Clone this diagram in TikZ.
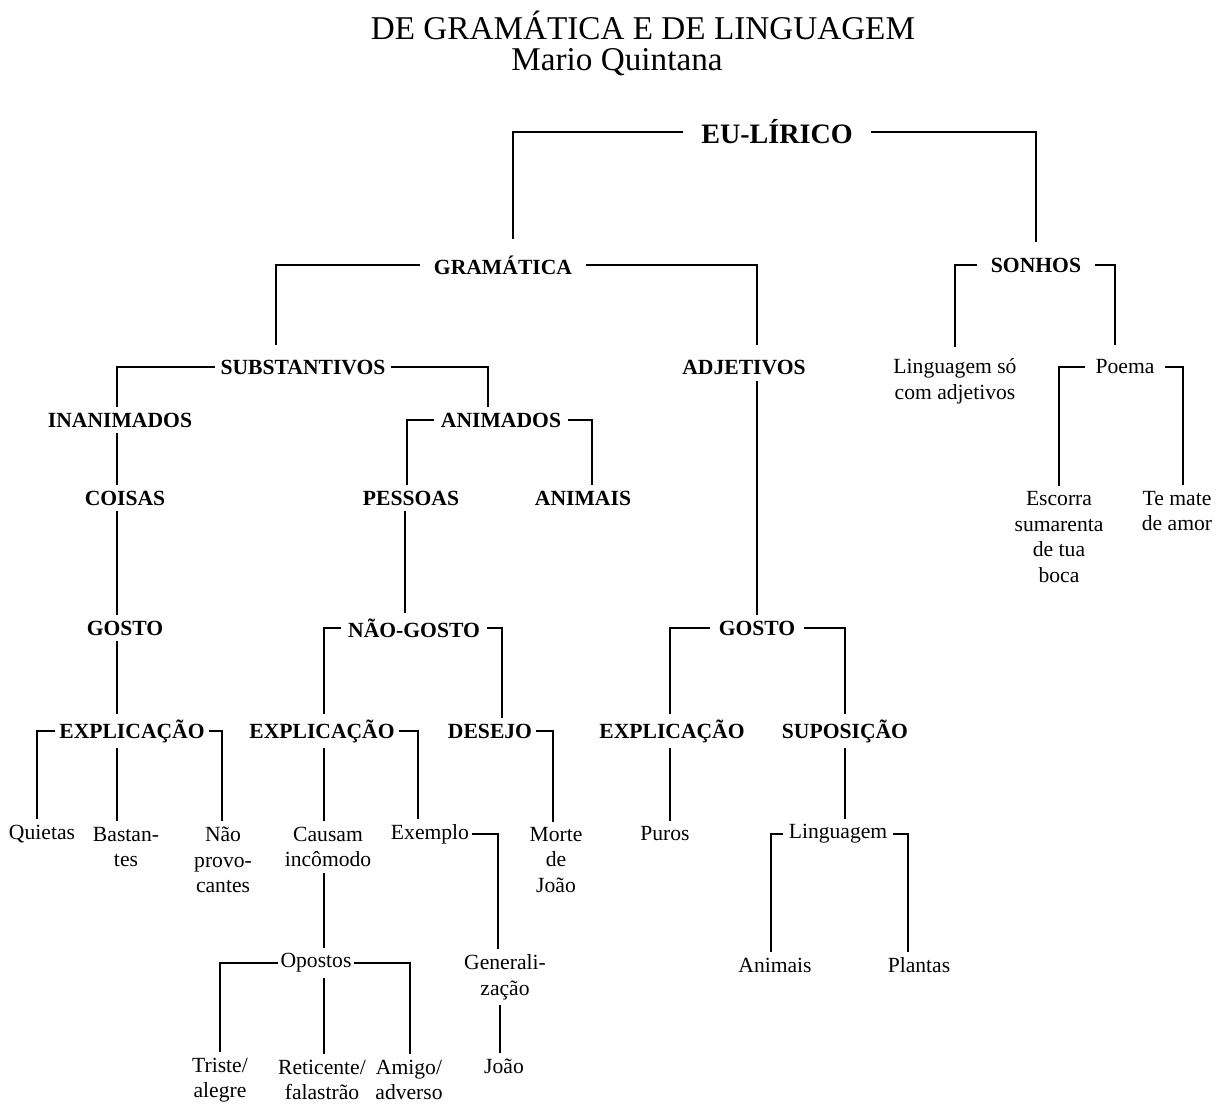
\documentclass[tikz,border=0pt]{standalone}
\usepackage{fontspec}
\setmainfont{Liberation Serif}
\usetikzlibrary{calc}

\tikzset{
	lbl/.style={font=\fontsize{12.3}{14.6}\selectfont, inner xsep=1.5pt, inner ysep=3pt, align=center},
	bold/.style={font=\fontsize{12.3}{14.6}\selectfont\bfseries, inner xsep=2pt, inner ysep=3pt, align=center},
	wire/.style={line width=1.1pt},
}

\begin{document}
\begin{tikzpicture}[x=0.02cm,y=-0.02cm]
		\useasboundingbox (0,0) rectangle (1222,1103);
		\node[font=\fontsize{18.9}{22}\selectfont] (title) at (643,25) {DE GRAMÁTICA E DE LINGUAGEM};
		\node[font=\fontsize{18.9}{22}\selectfont] (autor) at (617,62) {Mario Quintana};

		\node[bold, font=\fontsize{16}{19}\selectfont\bfseries, inner xsep=10pt] (eu) at (777,132) {EU-LÍRICO};
		\node[bold, inner xsep=8pt, inner ysep=9pt] (gram) at (503,265) {GRAMÁTICA};
		\node[bold, inner xsep=8pt, inner ysep=9pt] (sonhos) at (1036,265) {SONHOS};
		\node[bold, inner xsep=3pt, inner ysep=8pt] (subst) at (303,367) {SUBSTANTIVOS};
		\node[bold, inner ysep=8pt] (adj) at (744,367) {ADJETIVOS};
		\node[lbl, inner ysep=6pt] (lingso) at (955,381) {Linguagem só\\com adjetivos};
		\node[lbl, inner xsep=6pt, inner ysep=8pt] (poema) at (1125,367) {Poema};
		\node[bold] (inan) at (120,420) {INANIMADOS};
		\node[bold, inner xsep=4pt] (anim) at (501,420) {ANIMADOS};
		\node[bold] (coisas) at (125,498) {COISAS};
		\node[bold] (pess) at (411,498) {PESSOAS};
		\node[bold] (animais) at (583,498) {ANIMAIS};
		\node[lbl] (escorra) at (1059,537) {Escorra\\sumarenta\\de tua\\boca};
		\node[lbl] (temate) at (1177,511) {Te mate\\de amor};
		\node[bold] (gostoA) at (125,628) {GOSTO};
		\node[bold, inner xsep=4pt] (naogosto) at (414,628) {NÃO-GOSTO};
		\node[bold, inner xsep=5pt] (gostoB) at (757,628) {GOSTO};
		\node[bold] (explA) at (132,731) {EXPLICAÇÃO};
		\node[bold] (explB) at (322,731) {EXPLICAÇÃO};
		\node[bold] (desejo) at (490,731) {DESEJO};
		\node[bold] (explC) at (672,731) {EXPLICAÇÃO};
		\node[bold] (supos) at (845,731) {SUPOSIÇÃO};
		\node[lbl] (quietas) at (42,834) {Quietas};
		\node[lbl] (bastan) at (126,847) {Bastan-\\tes};
		\node[lbl] (naoprov) at (223,860) {Não\\provo-\\cantes};
		\node[lbl] (causam) at (328,847) {Causam\\incômodo};
		\node[lbl] (exemplo) at (430,834) {Exemplo};
		\node[lbl] (morte) at (556,860) {Morte\\de\\João};
		\node[lbl] (puros) at (665,834) {Puros};
		\node[lbl, inner xsep=3pt] (ling) at (838,834) {Linguagem};
		\node[lbl] (opostos) at (316,963) {Opostos};
		\node[lbl] (general) at (505,977) {Generali-\\zação};
		\node[lbl] (animaisB) at (775,965) {Animais};
		\node[lbl] (plantas) at (919,965) {Plantas};
		\node[lbl] (triste) at (220,1080) {Triste/\\alegre};
		\node[lbl] (retic) at (322,1080) {Reticente/\\falastrão};
		\node[lbl] (amigo) at (409,1080) {Amigo/\\adverso};
		\node[lbl] (joao) at (504,1066) {João};

		\draw[wire] (eu.west) -| ($(gram.north)+(10,0)$);
		\draw[wire] (eu.east) -| (sonhos.north);
		\draw[wire] (gram.west) -| ($(subst.north)+(-27,0)$);
		\draw[wire] (gram.east) -| ($(adj.north)+(13,0)$);
		\draw[wire] ($(adj.south -| gostoB.north)+(0,-8)$) -- (gostoB.north);
		\draw[wire] (sonhos.west) -| (lingso.north);
		\draw[wire] (sonhos.east) -| ($(poema.north)+(-10,0)$);
		\draw[wire] (poema.west) -| (escorra.north);
		\draw[wire] (poema.east) -| ($(temate.north)+(6,0)$);
		\draw[wire] (subst.west) -| ($(inan.north)+(-3,0)$);
		\draw[wire] (subst.east) -| ($(anim.north)+(-13,0)$);
		\draw[wire] ($(inan.south)+(-3,0)$) -- ($(coisas.north)+(-8,0)$);
		\draw[wire] ($(coisas.south)+(-8,0)$) -- ($(gostoA.north)+(-8,0)$);
		\draw[wire] ($(gostoA.south)+(-8,0)$) -- ($(explA.north)+(-15,0)$);
		\draw[wire] (anim.west) -| ($(pess.north)+(-4,0)$);
		\draw[wire] (anim.east) -| ($(animais.north)+(9,0)$);
		\draw[wire] ($(pess.south)+(-6,0)$) -- ($(naogosto.north)+(-9,0)$);
		\draw[wire] (naogosto.west) -| ($(explB.north)+(2,0)$);
		\draw[wire] (naogosto.east) -| ($(desejo.north)+(12,0)$);
		\draw[wire] (gostoB.west) -| ($(explC.north)+(-2,0)$);
		\draw[wire] (gostoB.east) -| (supos.north);
		\draw[wire] (explA.west) -| ($(quietas.north)+(-5,0)$);
		\draw[wire] ($(explA.south)+(-15,0)$) -- ($(bastan.north)+(-9,0)$);
		\draw[wire] (explA.east) -| ($(naoprov.north)+(-1,0)$);
		\draw[wire] ($(explB.south)+(2,0)$) -- ($(causam.north)+(-4,0)$);
		\draw[wire] (explB.east) -| ($(exemplo.north)+(-12,0)$);
		\draw[wire] (desejo.east) -| ($(morte.north)+(-3,0)$);
		\draw[wire] ($(explC.south)+(-2,0)$) -- ($(puros.north)+(5,0)$);
		\draw[wire] (supos.south) -- ($(ling.north)+(7,0)$);
		\draw[wire] (exemplo.east) -| ($(general.north)+(-7,0)$);
		\draw[wire] (ling.west) -| ($(animaisB.north)+(-4,0)$);
		\draw[wire] (ling.east) -| ($(plantas.north)+(-11,0)$);
		\draw[wire] ($(causam.south)+(-4,0)$) -- ($(opostos.north)+(8,0)$);
		\draw[wire] (opostos.west) -| (triste.north);
		\draw[wire] ($(opostos.south)+(8,0)$) -- ($(retic.north)+(2,0)$);
		\draw[wire] (opostos.east) -| ($(amigo.north)+(1,0)$);
		\draw[wire] ($(general.south)+(-5,0)$) -- ($(joao.north)+(-4,0)$);
	\end{tikzpicture}
\end{document}
